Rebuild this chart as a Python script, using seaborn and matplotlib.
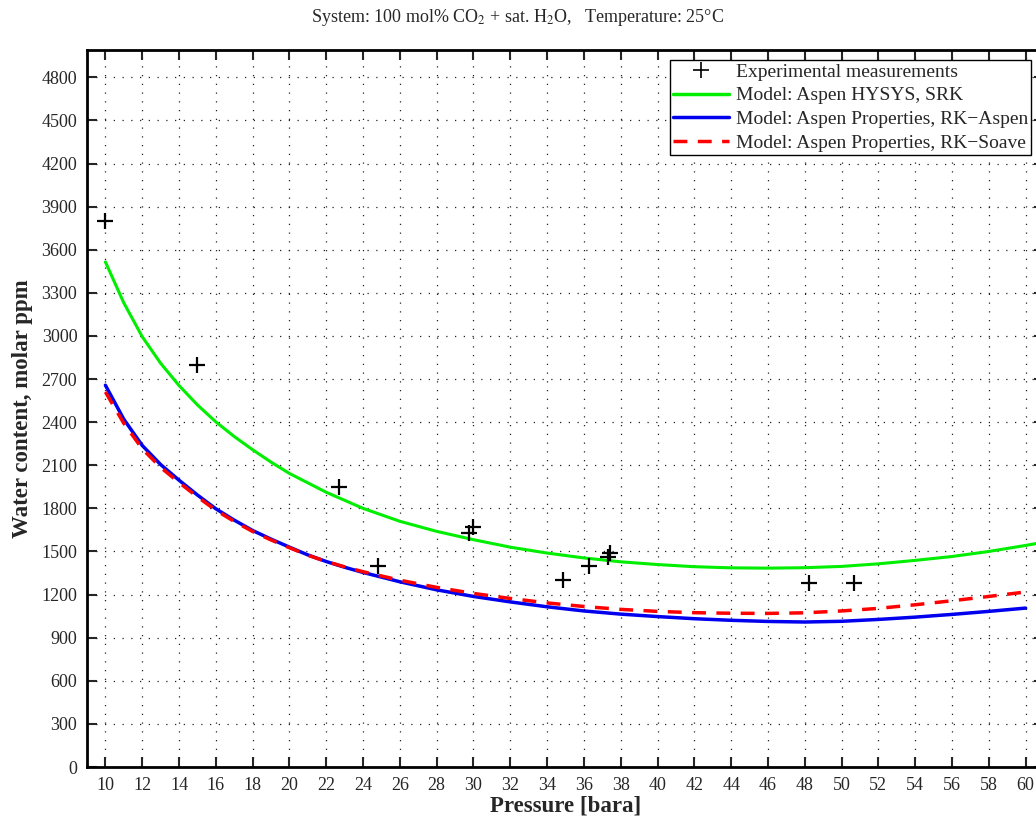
import numpy as np
import pandas as pd
import matplotlib
matplotlib.use("Agg")
import matplotlib.pyplot as plt
import seaborn as sns
from matplotlib.lines import Line2D

# ---- data ----
exp_p = [10.0, 14.95, 22.7, 24.8, 29.75, 29.95, 34.85, 36.3, 37.3, 37.4, 48.25, 50.7]
exp_w = [3800, 2800, 1950, 1400, 1630, 1670, 1300, 1400, 1460, 1490, 1280, 1280]

p_green = [10, 11, 12, 13, 14, 15, 16, 17, 18, 19, 20, 22, 24, 26, 28, 30, 32, 34, 36, 38,
           40, 42, 44, 46, 48, 50, 52, 54, 56, 58, 60, 61]
w_green = [3515, 3230, 2995, 2810, 2655, 2520, 2402, 2300, 2208, 2122, 2043, 1912, 1800,
           1710, 1640, 1582, 1530, 1489, 1455, 1428, 1409, 1394, 1386, 1384, 1387, 1396,
           1414, 1438, 1465, 1500, 1542, 1565]

p_model = [10, 11, 12, 13, 14, 15, 16, 17, 18, 19, 20, 21, 22, 23, 24, 26, 28, 30, 32, 34,
           36, 38, 40, 42, 44, 46, 48, 50, 52, 54, 56, 58, 60]
w_blue = [2657, 2420, 2238, 2105, 1996, 1893, 1797, 1718, 1646, 1586, 1530, 1476, 1430,
          1390, 1354, 1289, 1233, 1187, 1149, 1115, 1086, 1064, 1047, 1032, 1021, 1013,
          1009, 1014, 1027, 1043, 1062, 1083, 1106]
w_red = [2610, 2392, 2215, 2085, 1980, 1880, 1787, 1709, 1639, 1580, 1526, 1474, 1430,
         1393, 1359, 1300, 1250, 1208, 1173, 1142, 1117, 1097, 1083, 1074, 1070, 1069,
         1073, 1086, 1104, 1129, 1157, 1187, 1218]

x_ticks = list(range(10, 61, 2))
y_ticks = list(range(0, 4801, 300))

labels = ["Experimental measurements", "Model: Aspen HYSYS, SRK",
          "Model: Aspen Properties, RK\u2212Aspen", "Model: Aspen Properties, RK\u2212Soave"]

sns.set_style("ticks")
plt.rcParams['font.family'] = ['Liberation Serif', 'DejaVu Serif']
plt.rcParams['mathtext.fontset'] = 'stix'

W, H = 1036, 818
fig = plt.figure(figsize=(W/100, H/100), dpi=100)
ax = fig.add_axes([87/W, 1-767/H, (1044-87)/W, (767-50)/H])

sns.lineplot(x=p_green, y=w_green, ax=ax, color='#00ee00', lw=2.2, legend=False)
sns.lineplot(x=p_model, y=w_blue, ax=ax, color='#0000ee', lw=2.5, legend=False)
sns.lineplot(x=p_model, y=w_red, ax=ax, color='#ff0000', lw=2.5, ls=(0, (4, 3)), legend=False)
sns.scatterplot(x=exp_p, y=exp_w, ax=ax, marker='+', color='black', s=120, linewidth=1.6,
                zorder=5, legend=False)

ax.set_xlim(9, 61)
ax.set_ylim(0, 4990)
ax.set_xticks(x_ticks)
ax.set_yticks(y_ticks)
ax.tick_params(direction='in', length=7, width=1.5, top=True, right=True, labelsize=13, pad=7)
for s in ax.spines.values():
    s.set_linewidth(2.0)
    s.set_color('black')
ax.grid(True, color='#222222', lw=0.9, ls=(0, (1, 6)))

ax.set_xlabel("Pressure [bara]", fontsize=16.5, fontweight='bold', labelpad=1)
ax.set_ylabel("Water content, molar ppm", fontsize=16.5, fontweight='bold', labelpad=6)
fig.text(0.5, 1-17/H, "System: 100 mol% CO$_2$ + sat. H$_2$O,   Temperature: 25\u00b0C",
         ha='center', va='center', fontsize=13)

handles = [Line2D([], [], ls='none', marker='+', color='black', ms=11, mew=1.2),
           Line2D([], [], color='#00ee00', lw=2.5),
           Line2D([], [], color='#0000ee', lw=2.5),
           Line2D([], [], color='#ff0000', lw=2.5, ls=(0, (4, 3)))]
ax_w = 1044 - 87
ax_h = 767 - 50
leg = ax.legend(handles, labels, loc='upper right',
                bbox_to_anchor=((1031-87)/ax_w, 1-10/ax_h),
                fontsize=14, frameon=True, fancybox=False, edgecolor='black',
                framealpha=1, borderpad=0.15, labelspacing=0.32, handlelength=2.9,
                handletextpad=0.35, borderaxespad=0)
leg.get_frame().set_linewidth(1.0)

fig.savefig("out.png", dpi=100)
